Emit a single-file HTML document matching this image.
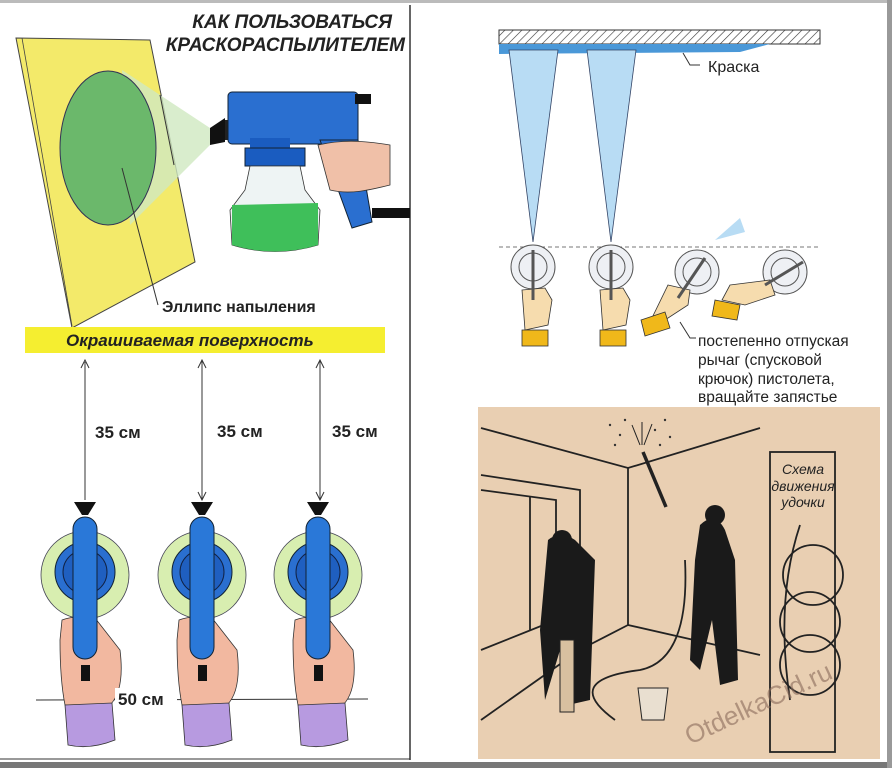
<!DOCTYPE html>
<html><head><meta charset="utf-8"><style>
html,body{margin:0;padding:0;background:#fff}
svg{display:block}
text{font-family:"Liberation Sans",sans-serif}
</style></head><body>
<svg width="892" height="768" viewBox="0 0 892 768" xmlns="http://www.w3.org/2000/svg">
<defs>
<pattern id="h" width="6" height="6" patternUnits="userSpaceOnUse" patternTransform="rotate(45)"><rect width="6" height="6" fill="#fff"/><line x1="0" y1="0" x2="0" y2="6" stroke="#333" stroke-width="1.2"/></pattern>
</defs>
<rect width="892" height="768" fill="#fff"/>
<rect x="0" y="0" width="892" height="3" fill="#bbb"/>
<rect x="0" y="762" width="892" height="6" fill="#777"/>
<rect x="887" y="0" width="5" height="768" fill="#999"/>
<line x1="410" y1="5" x2="410" y2="760" stroke="#333" stroke-width="1.5"/>
<line x1="0" y1="759" x2="410" y2="759" stroke="#333" stroke-width="1"/>

<text x="392" y="28" font-size="19" font-weight="bold" font-style="italic" text-anchor="end" fill="#222">КАК ПОЛЬЗОВАТЬСЯ</text>
<text x="405" y="51" font-size="19" font-weight="bold" font-style="italic" text-anchor="end" fill="#222">КРАСКОРАСПЫЛИТЕЛЕМ</text>
<polygon points="16,38 150,40 195,262 72,328" fill="#f3ea6a" stroke="#444" stroke-width="1"/>
<line x1="22" y1="38" x2="72" y2="326" stroke="#444" stroke-width="0.8"/>
<polygon points="122,70 210,128 215,140 130,225" fill="#cfe8c0" opacity="0.8"/>
<ellipse cx="108" cy="148" rx="48" ry="77" fill="#6bb86b" stroke="#335" stroke-width="1"/>
<line x1="160" y1="95" x2="174" y2="165" stroke="#333" stroke-width="1"/>
<line x1="122" y1="168" x2="158" y2="305" stroke="#333" stroke-width="1"/>
<polygon points="210,128 225,118 225,142 210,145" fill="#111"/>
<rect x="225" y="120" width="10" height="20" fill="#222"/>
<rect x="228" y="92" width="130" height="52" rx="4" fill="#2a6fd0" stroke="#123" stroke-width="1"/>
<rect x="355" y="94" width="16" height="10" fill="#111"/>
<rect x="250" y="138" width="40" height="14" fill="#1a5cc0"/>
<rect x="245" y="148" width="60" height="18" fill="#1a5cc0" stroke="#123"/>
<polygon points="320,140 358,140 372,222 352,228" fill="#2a6fd0" stroke="#123"/>
<path d="M318,145 C340,140 360,140 390,145 L390,185 C370,190 350,195 330,190 Z" fill="#f0c0a8" stroke="#333" stroke-width="0.8"/>
<rect x="372" y="208" width="38" height="10" fill="#111"/>
<path d="M250,166 L300,166 L305,190 L320,210 L318,245 Q275,258 232,245 L230,210 L245,190 Z" fill="#eef4f4" stroke="#333" stroke-width="0.8"/>
<path d="M232,205 L318,203 L318,245 Q275,258 232,245 Z" fill="#3fbf5a"/>
<text x="162" y="312" font-size="16" font-weight="bold" fill="#222">Эллипс напыления</text>
<rect x="25" y="327" width="360" height="26" fill="#f5ee30"/>
<text x="66" y="346" font-size="17" font-weight="bold" font-style="italic" fill="#222">Окрашиваемая поверхность</text>
<g stroke="#333" stroke-width="1" fill="none">
<line x1="85" y1="362" x2="85" y2="500"/><line x1="202" y1="360" x2="202" y2="500"/><line x1="320" y1="360" x2="320" y2="500"/>
<path d="M81,368 L85,360 L89,368 M198,368 L202,360 L206,368 M316,368 L320,360 L324,368 M198,492 L202,500 L206,492 M316,492 L320,500 L324,492"/>
<line x1="36" y1="700" x2="368" y2="699"/>
</g>
<g font-size="17" font-weight="bold" fill="#222">
<text x="95" y="438">35 см</text><text x="217" y="437">35 см</text><text x="332" y="437">35 см</text>
</g>
<g id="g1">
<circle cx="85" cy="575" r="44" fill="#d8eeb0" stroke="#445" stroke-width="0.8"/>
<circle cx="85" cy="572" r="30" fill="#2a6fd0" stroke="#123"/>
<circle cx="85" cy="572" r="22" fill="#1f5fc0" stroke="#124"/>
<path d="M62,620 Q75,615 95,618 L120,650 Q125,690 110,705 L65,705 Q60,680 60,640 Z" fill="#f2b8a0" stroke="#333" stroke-width="0.8"/>
<path d="M65,705 L112,703 L115,740 Q90,750 68,745 Z" fill="#b79ae0" stroke="#333" stroke-width="0.8"/>
<polygon points="74,502 96,502 88,515 82,515" fill="#111"/>
<rect x="73" y="517" width="24" height="142" rx="12" fill="#2a78d8" stroke="#123"/>
<rect x="81" y="665" width="9" height="16" fill="#111"/>
</g>
<use href="#g1" x="117"/>
<use href="#g1" x="233"/>
<rect x="115" y="688" width="62" height="22" fill="#fff"/>
<text x="118" y="705" font-size="17" font-weight="bold" fill="#222">50 см</text>

<rect x="499" y="30" width="321" height="14" fill="url(#h)" stroke="#333"/>
<path d="M499,44 L770,44 L740,52 L499,54 Z" fill="#4a98d8"/>
<polygon points="509,50 558,50 533,242" fill="#b8dcf4" stroke="#346" stroke-width="0.8"/>
<polygon points="587,50 636,50 611,242" fill="#b8dcf4" stroke="#346" stroke-width="0.8"/>
<path d="M683,53 L690,65 L700,65" fill="none" stroke="#333"/>
<text x="708" y="72" font-size="16" fill="#222">Краска</text>
<line x1="499" y1="247" x2="820" y2="247" stroke="#777" stroke-dasharray="4,3"/>
<polygon points="715,240 740,218 745,232" fill="#b8dcf4"/>
<g stroke="#555" fill="#eef0f4" stroke-width="1">
<circle cx="533" cy="267" r="22"/><circle cx="533" cy="267" r="14"/>
<circle cx="611" cy="267" r="22"/><circle cx="611" cy="267" r="14"/>
<circle cx="697" cy="272" r="22"/><circle cx="697" cy="272" r="14"/>
<circle cx="785" cy="272" r="22"/><circle cx="785" cy="272" r="14"/>
</g>
<g fill="#f6dcae" stroke="#333" stroke-width="0.8">
<path d="M522,290 L545,288 L552,300 L548,325 L525,330 Z"/>
<path d="M600,290 L623,288 L630,300 L626,325 L603,330 Z"/>
<path d="M668,285 L690,290 L688,305 L665,320 L650,322 Z"/>
<path d="M730,285 L770,280 L775,295 L745,305 L722,300 Z"/>
</g>
<g fill="#f0b81a" stroke="#333" stroke-width="0.8">
<rect x="522" y="330" width="26" height="16"/><rect x="600" y="330" width="26" height="16"/>
<polygon points="641,320 665,312 670,328 645,336"/><polygon points="715,300 740,305 737,320 712,316"/>
</g>
<g stroke="#555" stroke-width="3">
<line x1="533" y1="250" x2="533" y2="300"/><line x1="611" y1="250" x2="611" y2="300"/>
<line x1="705" y1="258" x2="678" y2="298"/><line x1="803" y1="262" x2="765" y2="285"/>
</g>
<path d="M680,322 L690,338 L696,338" fill="none" stroke="#333"/>
<g font-size="15.5" fill="#222">
<text x="698" y="346">постепенно отпуская</text>
<text x="698" y="365">рычаг (спусковой</text>
<text x="698" y="384">крючок) пистолета,</text>
<text x="698" y="402">вращайте запястье</text>
</g>

<rect x="478" y="407" width="402" height="352" fill="#e9cfb2"/>
<g stroke="#222" stroke-width="1.8" fill="none">
<path d="M481,428 L628,468 L760,428"/>
<line x1="628" y1="468" x2="628" y2="625"/>
<path d="M481,475 L580,490 L580,650 L481,720"/>
<path d="M481,490 L556,500 L556,620 L481,650"/>
<line x1="530" y1="497" x2="530" y2="630"/>
<path d="M628,625 L760,655 M628,625 L560,660"/>
<rect x="770" y="452" width="65" height="300"/>
<circle cx="813" cy="575" r="30"/><circle cx="810" cy="622" r="30"/><circle cx="810" cy="665" r="30"/>
<path d="M790,700 Q775,600 800,525"/>
<path d="M643,452 L666,507" stroke-width="3.5"/>
<path d="M615,720 Q560,680 640,670 Q690,660 685,560"/>
<path d="M640,445 L632,425 M642,445 L642,422 M644,445 L652,424" stroke-width="1"/>
</g>
<g fill="#333">
<circle cx="610" cy="425" r="1.2"/><circle cx="620" cy="435" r="1.2"/><circle cx="625" cy="420" r="1.2"/><circle cx="655" cy="430" r="1.2"/><circle cx="665" cy="420" r="1.2"/><circle cx="670" cy="437" r="1.2"/><circle cx="615" cy="445" r="1.2"/><circle cx="660" cy="445" r="1.2"/>
</g>
<g fill="#1a1a1a">
<path d="M548,540 Q560,530 575,540 L595,560 L590,700 L568,705 L560,650 L545,700 L540,630 Z"/>
<circle cx="562" cy="540" r="10"/>
<path d="M700,525 Q715,510 725,530 L735,560 L738,680 L720,685 L712,620 L700,670 L690,660 L695,560 Z"/>
<circle cx="715" cy="515" r="10"/>
<rect x="560" y="640" width="14" height="72" fill="#d8c0a0" stroke="#222"/>
<path d="M638,688 L668,688 L664,720 L642,720 Z" fill="#e9dfd0" stroke="#222"/>
</g>
<g font-size="14" font-style="italic" fill="#222" text-anchor="middle">
<text x="803" y="474">Схема</text><text x="803" y="491">движения</text><text x="803" y="507">удочки</text>
</g>
<text x="690" y="745" font-size="26" font-family="Liberation Serif,serif" fill="#8a6a5a" opacity="0.6" transform="rotate(-25 690 745)">OtdelkaCid.ru</text>
</svg>
</body></html>
